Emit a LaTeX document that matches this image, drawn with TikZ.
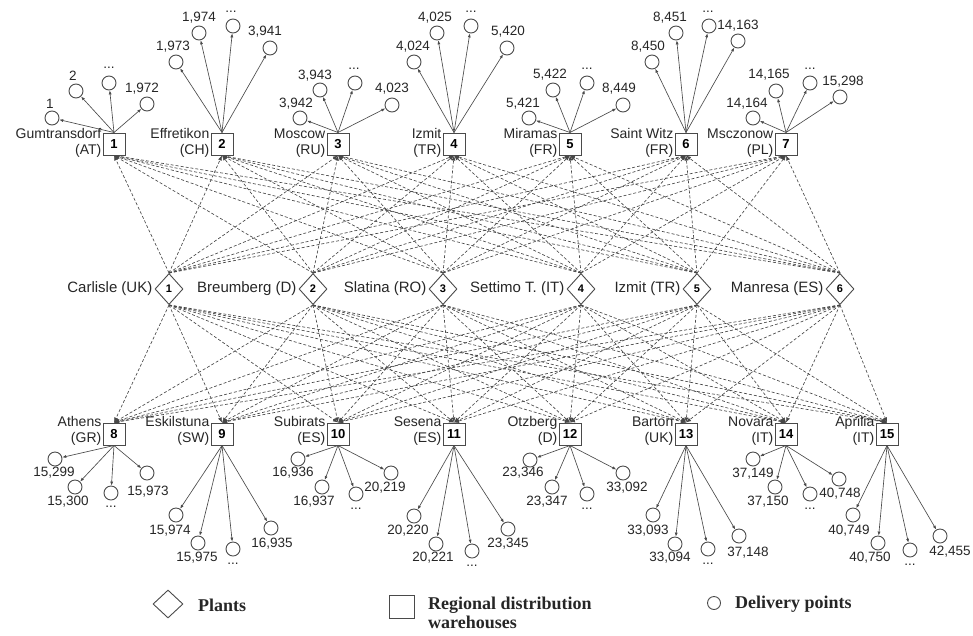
\documentclass[tikz,border=0pt]{standalone}
\usepackage{fontspec}
\setmainfont{Liberation Sans}
\newfontfamily\legserif{Liberation Serif}
\usetikzlibrary{arrows.meta,shapes.geometric,backgrounds}
\definecolor{netink}{HTML}{262626}
\definecolor{netgray}{HTML}{4A4A4A}
\definecolor{netedge}{HTML}{474747}
\newcommand\dpdots{...}
\tikzset{
  wh/.style={draw=netgray, line width=1pt, fill=white, minimum size=22pt, inner sep=0pt, font=\fontsize{13}{13}\selectfont\bfseries},
  pl/.style={diamond, draw=netgray, line width=0.9pt, fill=white, minimum width=28pt, minimum height=31pt, inner sep=0pt, font=\fontsize{11}{11}\selectfont\bfseries},
  dp/.style={circle, draw=netgray, line width=0.9pt, fill=white, minimum size=14pt, inner sep=0pt},
  whl/.style={anchor=east, align=right, inner sep=1pt, font=\fontsize{14}{16}\selectfont, text=netink},
  pll/.style={anchor=east, inner sep=2pt, font=\fontsize{15}{15}\selectfont, text=netink},
  dpl/.style={inner sep=0pt, font=\fontsize{13.5}{13.5}\selectfont, text=netink},
  flow/.style={-{Latex[length=5pt,width=4pt]}, netedge, line width=0.65pt, dash pattern=on 3pt off 2pt},
  ship/.style={-{Latex[length=4pt,width=3pt]}, netgray, line width=0.65pt},
  leg/.style={anchor=west, align=left, inner sep=0pt, font=\legserif\bfseries\fontsize{18}{19}\selectfont, text=netink},
}
\begin{document}
\begin{tikzpicture}[x=1pt, y=-1pt]
  \useasboundingbox (0,0) rectangle (973,635);
  % warehouses
  \foreach \n/\x/\t/\c in {1/114/Gumtransdorf/AT, 2/222/Effretikon/CH, 3/338/Moscow/RU, 4/454/Izmit/TR, 5/570/Miramas/FR, 6/686/Saint Witz/FR, 7/786/Msczonow/PL}{
    \node[wh] (w\n) at (\x,144) {\n};
    \node[whl] (lw\n) at ([yshift=1pt]w\n.west) {\t\\(\c)};
  }
  \foreach \n/\x/\t/\c in {8/114/Athens/GR, 9/222/Eskilstuna/SW, 10/338/Subirats/ES, 11/454/Sesena/ES, 12/570/Otzberg/D, 13/686/Barton/UK, 14/786/Novara/IT, 15/887/Aprilia/IT}{
    \node[wh] (w\n) at (\x,434) {\n};
    \node[whl] (lw\n) at ([yshift=3pt]w\n.west) {\t\\(\c)};
  }
  % plants
  \foreach \n/\x/\t in {1/169/Carlisle (UK), 2/313/Breumberg (D), 3/443/Slatina (RO), 4/581/Settimo T. (IT), 5/697/Izmit (TR), 6/840/Manresa (ES)}{
    \node[pl] (p\n) at (\x,289) {\n};
    \node[pll] (lp\n) at (p\n.west) {\t};
  }
  % delivery points, upper row
  \foreach \w/\i/\x/\y/\lx/\ly/\t in {
      1/1/52/118/50/104/1, 1/2/76/91/73/76/2, 1/3/109/83/109/68/\dpdots, 1/4/147/104/142/89/1{,}972,
      2/1/176/62/173/47/1{,}973, 2/2/199/33/199/18/1{,}974, 2/3/233/26/231/12/\dpdots, 2/4/270/48/265/32/3{,}941,
      3/1/300/118/296/104/3{,}942, 3/2/320/90/315/76/3{,}943, 3/3/355/83/354/69/\dpdots, 3/4/392/105/392/89/4{,}023,
      4/1/414/62/413/47/4{,}024, 4/2/437/33/435/18/4{,}025, 4/3/471/26/471/12/\dpdots, 4/4/507/48/508/32/5{,}420,
      5/1/529/118/523/104/5{,}421, 5/2/553/90/550/75/5{,}422, 5/3/587/83/587/69/\dpdots, 5/4/623/105/619/89/8{,}449,
      6/1/652/62/648/47/8{,}450, 6/2/676/33/670/18/8{,}451, 6/3/709/26/708/12/\dpdots, 6/4/738/41/738/26/14{,}163,
      7/1/753/118/747/104/14{,}164, 7/2/776/91/769/75/14{,}165, 7/3/810/83/810/69/\dpdots, 7/4/840/97/843/82/15{,}298}{
    \node[dp] (d\w-\i) at (\x,\y) {};
    \node[dpl] (ld\w-\i) at (\lx,\ly) {\t};
    \draw[ship] (w\w.north) -- (d\w-\i);
  }
  % delivery points, lower row
  \foreach \w/\i/\x/\y/\lx/\ly/\t in {
      8/1/55/459/54/473/15{,}299, 8/2/75/487/68/502/15{,}300, 8/3/111/493/111/507/\dpdots, 8/4/147/473/148/492/15{,}973,
      9/1/176/515/170/531/15{,}974, 9/2/198/543/197/558/15{,}975, 9/3/233/549/233/564/\dpdots, 9/4/271/528/272/544/16{,}935,
      10/1/298/459/293/473/16{,}936, 10/2/322/487/314/502/16{,}937, 10/3/356/494/356/509/\dpdots, 10/4/391/473/385/488/20{,}219,
      11/1/414/516/408/531/20{,}220, 11/2/436/544/433/558/20{,}221, 11/3/472/551/472/566/\dpdots, 11/4/508/529/508/544/23{,}345,
      12/1/530/460/523/473/23{,}346, 12/2/552/487/547/502/23{,}347, 12/3/587/494/587/509/\dpdots, 12/4/623/473/627/488/33{,}092,
      13/1/653/515/648/531/33{,}093, 13/2/675/544/670/558/33{,}094, 13/3/708/549/708/564/\dpdots, 13/4/739/536/748/553/37{,}148,
      14/1/753/459/753/474/37{,}149, 14/2/775/487/768/502/37{,}150, 14/3/810/494/810/509/\dpdots, 14/4/839/479/840/494/40{,}748,
      15/1/853/515/849/531/40{,}749, 15/2/878/543/870/558/40{,}750, 15/3/910/550/910/565/\dpdots, 15/4/940/536/950/552/42{,}455}{
    \node[dp] (d\w-\i) at (\x,\y) {};
    \node[dpl] (ld\w-\i) at (\lx,\ly) {\t};
    \draw[ship] (w\w.south) -- (d\w-\i);
  }
  % plant to warehouse flows
  \begin{pgfonlayer}{background}
    \foreach \p in {1,...,6}{
      \foreach \w in {1,...,7} \draw[flow] (p\p.north) -- (w\w.south);
      \foreach \w in {8,...,15} \draw[flow] (p\p.south) -- (w\w.north);
    }
  \end{pgfonlayer}
  % legend
  \node[pl, minimum width=30pt, minimum height=28pt] (kp) at (168,604) {};
  \node[leg] (kpt) at (198,605) {Plants};
  \node[wh, minimum width=25pt, minimum height=23pt] (kw) at (402,607) {};
  \node[leg] (kwt) at (428,613) {Regional distribution\\warehouses};
  \node[dp, minimum size=13pt] (kd) at (714,603) {};
  \node[leg] (kdt) at (735,604) {Delivery points};
\end{tikzpicture}
\end{document}
